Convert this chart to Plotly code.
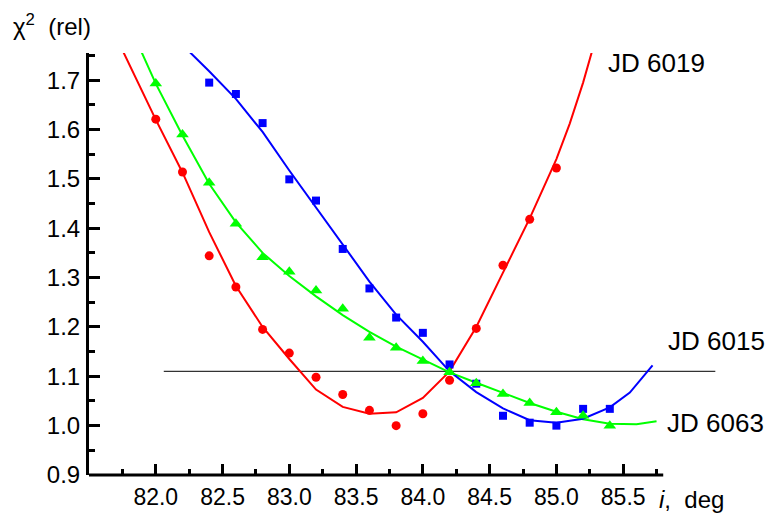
import plotly.graph_objects as go

# ---- data ----
inc_6019 = [82.0, 82.2, 82.4, 82.6, 82.8, 83.0, 83.2, 83.4, 83.6, 83.8, 84.0, 84.2, 84.4, 84.6, 84.8, 85.0]
chi_6019 = [1.621, 1.514, 1.344, 1.281, 1.195, 1.147, 1.098, 1.063, 1.031, 1.000, 1.024, 1.092, 1.197, 1.325, 1.418, 1.522]

inc_6063 = [82.0, 82.2, 82.4, 82.6, 82.8, 83.0, 83.2, 83.4, 83.6, 83.8, 84.0, 84.2, 84.4, 84.6, 84.8, 85.0, 85.2, 85.4]
chi_6063 = [1.693, 1.590, 1.492, 1.409, 1.341, 1.312, 1.274, 1.237, 1.178, 1.158, 1.131, 1.108, 1.086, 1.064, 1.046, 1.027, 1.020, 1.000]

inc_6015 = [82.4, 82.6, 82.8, 83.0, 83.2, 83.4, 83.6, 83.8, 84.0, 84.2, 84.4, 84.6, 84.8, 85.0, 85.2, 85.4]
chi_6015 = [1.695, 1.672, 1.613, 1.499, 1.456, 1.358, 1.278, 1.219, 1.188, 1.124, 1.085, 1.020, 1.006, 1.000, 1.034, 1.034]

fit_6019_x = [81.75, 82.0, 82.2, 82.4, 82.6, 82.8, 83.0, 83.2, 83.4, 83.6, 83.8, 84.0, 84.2, 84.4, 84.6, 84.8, 85.0, 85.1, 85.2, 85.3]
fit_6019_y = [1.761, 1.620, 1.513, 1.392, 1.283, 1.200, 1.135, 1.073, 1.038, 1.024, 1.027, 1.056, 1.110, 1.200, 1.310, 1.420, 1.540, 1.612, 1.695, 1.790]

fit_6063_x = [81.88, 82.0, 82.2, 82.4, 82.6, 82.8, 83.0, 83.2, 83.4, 83.6, 83.8, 84.0, 84.2, 84.4, 84.6, 84.8, 85.0, 85.2, 85.4, 85.6, 85.75]
fit_6063_y = [1.765, 1.693, 1.588, 1.490, 1.412, 1.350, 1.303, 1.262, 1.224, 1.190, 1.160, 1.134, 1.108, 1.087, 1.066, 1.046, 1.028, 1.013, 1.004, 1.003, 1.009]

fit_6015_x = [82.25, 82.4, 82.6, 82.8, 83.0, 83.2, 83.4, 83.6, 83.8, 84.0, 84.2, 84.4, 84.6, 84.8, 85.0, 85.2, 85.4, 85.55, 85.72]
fit_6015_y = [1.758, 1.718, 1.662, 1.595, 1.517, 1.442, 1.366, 1.292, 1.225, 1.170, 1.110, 1.068, 1.035, 1.011, 1.006, 1.014, 1.037, 1.067, 1.122]

level_x = [82.06, 86.19]
level_y = [1.11, 1.11]

x_major = [82.0, 82.5, 83.0, 83.5, 84.0, 84.5, 85.0, 85.5]
x_minor = [81.75, 82.25, 82.75, 83.25, 83.75, 84.25, 84.75, 85.25, 85.75]
y_major = [0.9, 1.0, 1.1, 1.2, 1.3, 1.4, 1.5, 1.6, 1.7]
y_minor = [0.95, 1.05, 1.15, 1.25, 1.35, 1.45, 1.55, 1.65, 1.75]

FONT = "Liberation Sans, Arial, sans-serif"
RED, GREEN, BLUE = "#ff0000", "#00ff00", "#0000ff"

fig = go.Figure()

fig.add_trace(go.Scatter(x=level_x, y=level_y, mode="lines",
                         line=dict(color="#333333", width=1.2), hoverinfo="skip"))

fig.add_trace(go.Scatter(x=fit_6019_x, y=fit_6019_y, mode="lines", line=dict(color=RED, width=2)))
fig.add_trace(go.Scatter(x=fit_6063_x, y=fit_6063_y, mode="lines", line=dict(color=GREEN, width=2)))
fig.add_trace(go.Scatter(x=fit_6015_x, y=fit_6015_y, mode="lines", line=dict(color=BLUE, width=2)))

fig.add_trace(go.Scatter(x=inc_6019, y=chi_6019, mode="markers",
                         marker=dict(symbol="circle", size=9, color=RED, line=dict(width=0))))
fig.add_trace(go.Scatter(x=inc_6015, y=chi_6015, mode="markers",
                         marker=dict(symbol="square", size=8, color=BLUE, line=dict(width=0))))
fig.add_trace(go.Scatter(x=inc_6063, y=chi_6063, mode="markers",
                         marker=dict(symbol="triangle-up", size=11, color=GREEN, line=dict(width=0))))

# x-axis line drawn only over the labelled span
fig.add_shape(type="line", xref="x", yref="paper", x0=81.5, x1=85.8, y0=0, y1=0,
              line=dict(color="black", width=3))

fig.update_layout(
    template="none",
    width=766, height=516,
    margin=dict(l=89, r=36, t=53, b=41, autoexpand=False),
    paper_bgcolor="white", plot_bgcolor="white",
    showlegend=False,
    font=dict(family=FONT, size=23, color="black"),
    xaxis=dict(range=[81.5, 86.3], automargin=False, showline=False, showgrid=False, zeroline=False,
               tickmode="array", tickvals=x_major, ticktext=[f"{v:.1f}" for v in x_major],
               ticks="inside", ticklen=11, tickwidth=3, tickcolor="black",
               ticklabelstandoff=6,
               minor=dict(tickmode="array", tickvals=x_minor, ticks="inside",
                          ticklen=6, tickwidth=2.5, tickcolor="black", showgrid=False),
               tickfont=dict(family=FONT, size=23, color="black")),
    yaxis=dict(range=[0.9, 1.755], automargin=False, showline=True, linewidth=3, linecolor="black",
               showgrid=False, zeroline=False,
               tickmode="array", tickvals=y_major, ticktext=[f"{v:.1f}" for v in y_major],
               ticks="inside", ticklen=11, tickwidth=3, tickcolor="black",
               ticklabelstandoff=1,
               minor=dict(tickmode="array", tickvals=y_minor, ticks="inside",
                          ticklen=6, tickwidth=2.5, tickcolor="black", showgrid=False),
               tickfont=dict(family=FONT, size=24, color="black")),
)

annots = [
    dict(x=85.37, y=1.734, text="JD 6019"),
    dict(x=85.82, y=1.172, text="JD 6015"),
    dict(x=85.81, y=1.005, text="JD 6063"),
]
for a in annots:
    fig.add_annotation(x=a["x"], y=a["y"], xref="x", yref="y", text=a["text"],
                       showarrow=False, xanchor="left", yanchor="middle",
                       font=dict(family=FONT, size=26, color="black"))

fig.add_annotation(x=-0.121, y=1.066, xref="paper", yref="paper",
                   text="χ<sup>2</sup> &nbsp;(rel)", showarrow=False,
                   xanchor="left", yanchor="middle",
                   font=dict(family=FONT, size=24, color="black"))
fig.add_annotation(x=0.886, y=-0.059, xref="paper", yref="paper",
                   text="<i>i</i>, &nbsp;deg", showarrow=False,
                   xanchor="left", yanchor="middle",
                   font=dict(family=FONT, size=24, color="black"))

fig.write_html("out.html", config={"displayModeBar": False},
               post_script="document.body.style.margin='0px';")
